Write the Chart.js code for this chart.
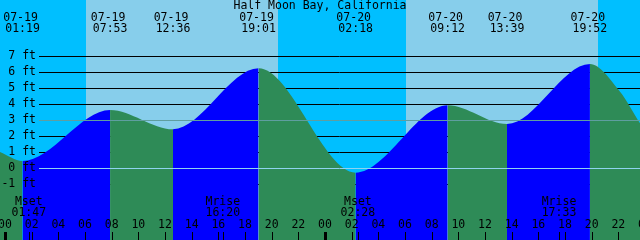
<!DOCTYPE html>
<html>
<head>
<meta charset="utf-8">
<script src="https://cdn.jsdelivr.net/npm/chart.js@4"></script>
<style>
  html, body { margin: 0; padding: 0; background: #00bfff; }
  #wrap { width: 640px; height: 240px; position: relative; }
</style>
</head>
<body>
<div id="wrap"><canvas id="tideChart"></canvas></div>
<script>
// tide curve, hours from 07-19 00:00 (edge values)
const curveHours = [-0.375, 1.317, 7.883, 12.6, 19.017, 26.3, 33.2, 37.65, 43.867, 46.1, 47.625];
const curveFeet = [1.0, 0.44, 3.63, 2.42, 6.23, -0.29, 3.92, 2.75, 6.5, 4.8, 2.8];

// high / low labels along the top
const extremeDates = ['07-19', '07-19', '07-19', '07-19', '07-20', '07-20', '07-20', '07-20'];
const extremeTimes = ['01:19', '07:53', '12:36', '19:01', '02:18', '09:12', '13:39', '19:52'];
const extremeDay = [0, 0, 0, 0, 1, 1, 1, 1];

// sun (hours from 07-19 00:00)
const sunrise = [6.07, 30.08];
const sunset = [20.47, 44.48];

// moon events along the bottom
const moonNames = ['Mset', 'Mrise', 'Mset', 'Mrise'];
const moonTimes = ['01:47', '16:20', '02:28', '17:33'];
const moonDay = [0, 0, 1, 1];

const footLines = [-1, 1, 2, 4, 5, 6, 7];
const footLabels = [-1, 0, 1, 2, 3, 4, 5, 6, 7];
const hourTicks = [0, 2, 4, 6, 8, 10, 12, 14, 16, 18, 20, 22, 24, 26, 28, 30, 32, 34, 36, 38, 40, 42, 44, 46, 48];

const title = 'Half Moon Bay, California';
const datumFoot = 0;
const meanFoot = 3;

const riseColor = '#0000ff';
const fallColor = '#2e8b57';
const dayColor = '#87ceeb';
const nightColor = '#00bfff';
const font = '11.5px "DejaVu Sans Mono", monospace';

function toHours(day, hhmm) {
  const p = hhmm.split(':');
  return day * 24 + Number(p[0]) + Number(p[1]) / 60;
}

const tidePlugin = {
  id: 'tidePlugin',
  beforeDatasetsDraw(chart) {
    const ctx = chart.ctx;
    const x = chart.scales.x, y = chart.scales.y;
    const a = chart.chartArea;
    ctx.save();
    ctx.fillStyle = nightColor;
    ctx.fillRect(a.left, a.top, a.right - a.left, a.bottom - a.top);
    ctx.fillStyle = dayColor;
    sunrise.forEach((r, i) => {
      const x0 = Math.round(x.getPixelForValue(r));
      const x1 = Math.round(x.getPixelForValue(sunset[i]));
      ctx.fillRect(x0, a.top, x1 - x0, a.bottom - a.top);
    });
    ctx.strokeStyle = '#000';
    ctx.lineWidth = 1;
    footLines.forEach(f => {
      const py = Math.round(y.getPixelForValue(f)) + 0.5;
      ctx.beginPath();
      ctx.moveTo(39, py);
      ctx.lineTo(a.right, py);
      ctx.stroke();
    });
    ctx.restore();
  },
  afterDatasetsDraw(chart) {
    const ctx = chart.ctx;
    const x = chart.scales.x, y = chart.scales.y;
    const a = chart.chartArea;
    ctx.save();
    // datum and mean level lines
    [[datumFoot, '#8fd3f0'], [meanFoot, '#5f9ea0']].forEach(([f, c]) => {
      const py = Math.round(y.getPixelForValue(f)) + 0.5;
      ctx.strokeStyle = c;
      ctx.lineWidth = 1;
      ctx.beginPath();
      ctx.moveTo(39, py);
      ctx.lineTo(a.right, py);
      ctx.stroke();
    });

    ctx.fillStyle = '#000';
    ctx.font = font;
    ctx.textBaseline = 'middle';

    // foot labels
    ctx.textAlign = 'right';
    footLabels.forEach(f => {
      ctx.fillText(f + ' ft', 36, y.getPixelForValue(f));
    });

    // title and extremes
    ctx.textAlign = 'center';
    ctx.fillText(title, (a.left + a.right) / 2, 6);
    extremeTimes.forEach((t, i) => {
      const px = x.getPixelForValue(toHours(extremeDay[i], t));
      ctx.fillText(extremeDates[i], px - 2, 18);
      ctx.fillText(t, px, 29);
    });

    // moon events
    moonNames.forEach((n, i) => {
      const h = toHours(moonDay[i], moonTimes[i]);
      const px = x.getPixelForValue(h);
      ctx.fillText(n, px, 202);
      ctx.fillText(moonTimes[i], px, 213);
      ctx.fillRect(Math.round(px), 232, 1, 8);
    });

    // hour axis
    hourTicks.forEach(h => {
      const px = x.getPixelForValue(h);
      const lab = String(h % 24).padStart(2, '0');
      ctx.fillText(lab, px, 225);
      if (h % 24 === 0) {
        ctx.fillRect(Math.round(px) - 1, 232, 3, 8);
      } else {
        ctx.fillRect(Math.round(px), 232, 1, 8);
      }
    });
    ctx.restore();
  }
};

const data = {
  datasets: [{
    label: 'Tide',
    data: curveHours.map((h, i) => ({ x: h, y: curveFeet[i] })),
    fill: 'start',
    backgroundColor: fallColor,
    borderColor: 'rgba(0,0,0,0)',
    borderWidth: 0,
    pointRadius: 0,
    cubicInterpolationMode: 'monotone',
    segment: {
      backgroundColor: c => c.p0.parsed.y < c.p1.parsed.y ? riseColor : fallColor
    }
  }]
};

const config = {
  type: 'line',
  data: data,
  options: {
    responsive: true,
    maintainAspectRatio: false,
    devicePixelRatio: 1,
    animation: false,
    layout: { padding: 0 },
    plugins: {
      legend: { display: false },
      tooltip: { enabled: false }
    },
    scales: {
      x: { type: 'linear', min: -0.375, max: 47.625, display: false },
      y: { min: -4.5, max: 10.5, display: false }
    }
  },
  plugins: [tidePlugin]
};

const tideChart = new Chart(document.querySelector('#tideChart'), config);
</script>
</body>
</html>
